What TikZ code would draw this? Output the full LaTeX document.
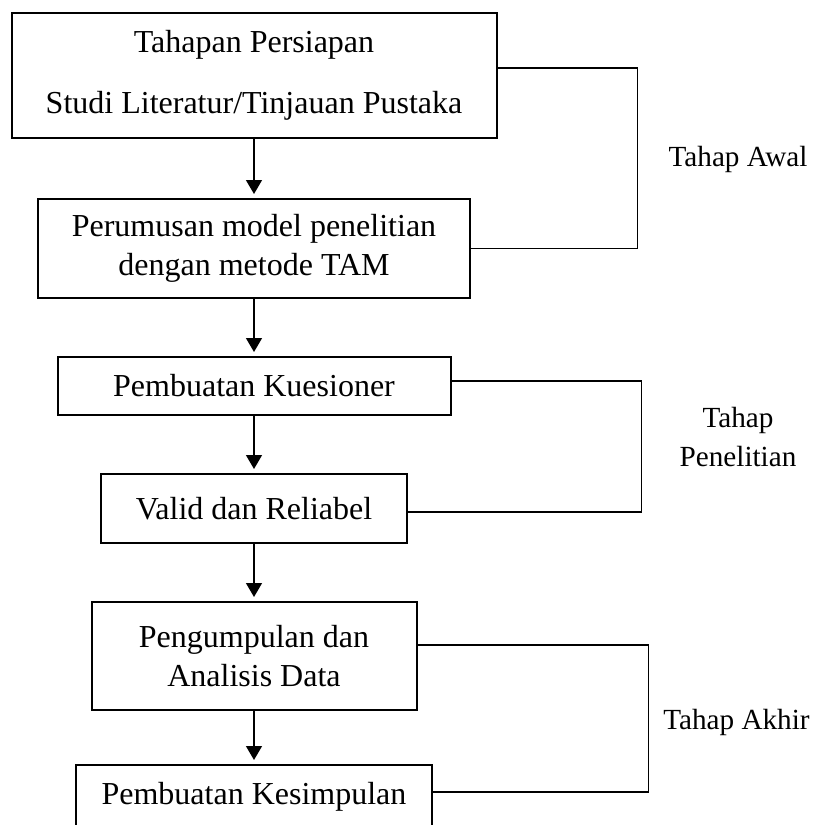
\documentclass[tikz,border=0pt]{standalone}
\usepackage{fontspec}
\setmainfont{Liberation Serif}
\usetikzlibrary{arrows.meta,positioning}
\tikzset{
    stage/.style={draw, line width=1pt, inner sep=0pt, align=center, font=\fontsize{16}{19.5}\selectfont},
    flow/.style={-{Triangle[length=7pt,width=8pt]}, line width=0.7pt, shorten >=2pt},
    bracket/.style={line width=0.7pt},
    phase/.style={align=center, font=\fontsize{14.6}{19.5}\selectfont}
}
\begin{document}
\begin{tikzpicture}[x=0.5pt, y=-0.5pt]
    \useasboundingbox (0,0) rectangle (815,825);
    \clip (0,0) rectangle (815,825);
    \node [stage, minimum width=242.5pt, minimum height=62.5pt] (persiapan) at (254,75.5) {Tahapan Persiapan\\[11pt] Studi Literatur/Tinjauan Pustaka};
    \node [stage, minimum width=216pt, minimum height=49.5pt] (perumusan) at (254,248.5) {Perumusan model penelitian\\ dengan metode TAM};
    \node [stage, minimum width=196.5pt, minimum height=29pt] (kuesioner) at (254,386) {Pembuatan Kuesioner};
    \node [stage, minimum width=153pt, minimum height=34.5pt] (valid) at (254,508.5) {Valid dan Reliabel};
    \node [stage, minimum width=162.5pt, minimum height=54pt] (analisis) at (254,656) {Pengumpulan dan\\ Analisis Data};
    \node [stage, minimum width=178pt, minimum height=32pt] (kesimpulan) at (254,797) {Pembuatan Kesimpulan};

    % Phase labels
    \node [phase] (awal) at (738,159) {Tahap Awal};
    \node [phase] (penelitian) at (738,437) {Tahap\\ Penelitian};
    \node [phase] (akhir) at (736.5,722) {Tahap Akhir};

    \draw [flow] (persiapan) -- (perumusan);
    \draw [flow] (perumusan) -- (kuesioner);
    \draw [flow] (kuesioner) -- (valid);
    \draw [flow] (valid) -- (analisis);
    \draw [flow] (analisis) -- (kesimpulan);

    % Brackets grouping the phases
    \draw [bracket] ([yshift=3.75pt]persiapan.east) -- ++(70pt,0) |- (perumusan.east);
    \draw [bracket] ([yshift=2.5pt]kuesioner.east) -- ++(95pt,0) |- ([yshift=-1.75pt]valid.east);
    \draw [bracket] ([yshift=5.5pt]analisis.east) -- ++(115.5pt,0) |- ([yshift=2.5pt]kesimpulan.east);
\end{tikzpicture}
\end{document}
